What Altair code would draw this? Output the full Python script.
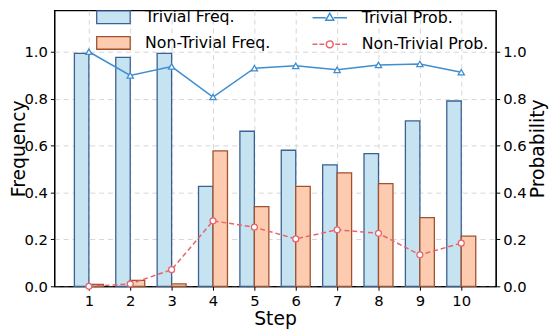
import altair as alt
import pandas as pd

steps = [1, 2, 3, 4, 5, 6, 7, 8, 9, 10]
trivial_freq = [0.993, 0.976, 0.993, 0.426, 0.661, 0.58, 0.518, 0.566, 0.705, 0.79]
nontrivial_freq = [0.008, 0.025, 0.01, 0.577, 0.34, 0.426, 0.484, 0.438, 0.293, 0.214]
trivial_prob = [1.0, 0.899, 0.937, 0.807, 0.93, 0.94, 0.923, 0.944, 0.948, 0.913]
nontrivial_prob = [0.0, 0.01, 0.071, 0.279, 0.252, 0.202, 0.241, 0.226, 0.134, 0.184]
freq_names = ["Trivial Freq.", "Non-Trivial Freq."]
prob_names = ["Trivial Prob.", "Non-Trivial Prob."]

FONT = "DejaVu Sans"
YMAX = 1.1765
BLUE_FILL, BLUE_EDGE = "#c5e3f0", "#3d5f92"
ORANGE_FILL, ORANGE_EDGE = "#fccbb0", "#a0522d"
LINE_BLUE, LINE_RED = "#3f8ed0", "#e8646a"

tf_df = pd.DataFrame({"step": steps, "value": trivial_freq, "series": freq_names[0]})
nf_df = pd.DataFrame({"step": steps, "value": nontrivial_freq, "series": freq_names[1]})
tp_df = pd.DataFrame({"step": steps, "prob": trivial_prob, "name": prob_names[0]})
np_df = pd.DataFrame({"step": steps, "prob": nontrivial_prob, "name": prob_names[1]})

xscale = alt.Scale(domain=[0.165, 10.835], nice=False, zero=False)
yscale = alt.Scale(domain=[0, YMAX], nice=False)
yticks = [0, 0.2, 0.4, 0.6, 0.8, 1.0]


def xaxis():
    return alt.Axis(title="Step", values=steps, format="d", grid=True)


def left_axis():
    return alt.Axis(title="Frequency", values=yticks, format=".1f", grid=True, orient="left")


def right_axis():
    return alt.Axis(title="Probability", values=yticks, format=".1f", orient="right",
                    grid=False, titleAngle=270, titleBaseline="top")


BAR_SYM = "M-1,-0.38H1V0.38H-1Z"


def bar_layer(df, off, fill, edge, ly):
    return alt.Chart(df).transform_calculate(
        x1=f"datum.step + ({off})", x2=f"datum.step + ({off}) + 0.35"
    ).mark_rect(stroke=edge, strokeWidth=1.3, opacity=1).encode(
        x=alt.X("x1:Q", scale=xscale, axis=xaxis()),
        x2="x2:Q",
        y=alt.Y("value:Q", scale=yscale, axis=left_axis()),
        y2=alt.datum(0),
        fill=alt.Fill("series:N", scale=alt.Scale(domain=[df["series"][0]], range=[fill]),
                      legend=alt.Legend(title=None, orient="none", legendX=42, legendY=ly,
                                        symbolType=BAR_SYM, symbolSize=1156,
                                        symbolStrokeColor=edge, symbolStrokeWidth=1.3,
                                        symbolOpacity=1, labelOffset=14)),
    )


bars_t = bar_layer(tf_df, -0.35, BLUE_FILL, BLUE_EDGE, -11)
bars_n = bar_layer(nf_df, 0, ORANGE_FILL, ORANGE_EDGE, 15)
left = alt.layer(bars_t, bars_n).resolve_scale(fill="independent")

TRI_PATH = "M-1,0H-0.23M0.23,0H1M0,-0.26L0.23,0.14L-0.23,0.14Z"
CIRC_PATH = ("M-1,0H-0.72M-0.6,0H-0.32M0.32,0H0.6M0.72,0H1"
             "M0.2,0A0.2,0.2 0 1,1 -0.2,0A0.2,0.2 0 1,1 0.2,0Z")

tline = alt.Chart(tp_df).mark_line(strokeWidth=1.5).encode(
    x=alt.X("step:Q", scale=xscale, axis=xaxis()),
    y=alt.Y("prob:Q", scale=yscale, axis=right_axis()),
    stroke=alt.Stroke("name:N", scale=alt.Scale(domain=[prob_names[0]], range=[LINE_BLUE]),
                      legend=alt.Legend(title=None, orient="none", legendX=261, legendY=-11,
                                        symbolType=TRI_PATH, symbolSize=1225,
                                        symbolStrokeWidth=1.5, labelOffset=14)),
)
tpts = alt.Chart(tp_df).mark_point(shape="triangle-up", filled=True, fill="white",
                                   stroke=LINE_BLUE, strokeWidth=1.3, size=40, opacity=1).encode(
    x=alt.X("step:Q", scale=xscale, axis=xaxis()),
    y=alt.Y("prob:Q", scale=yscale, axis=right_axis()),
)
nline = alt.Chart(np_df).mark_line(strokeWidth=1.5, strokeDash=[5, 3]).encode(
    x=alt.X("step:Q", scale=xscale, axis=xaxis()),
    y=alt.Y("prob:Q", scale=yscale, axis=right_axis()),
    stroke=alt.Stroke("name:N", scale=alt.Scale(domain=[prob_names[1]], range=[LINE_RED]),
                      legend=alt.Legend(title=None, orient="none", legendX=261, legendY=16,
                                        symbolType=CIRC_PATH, symbolSize=1225, symbolDash=[1, 0],
                                        symbolStrokeWidth=1.5, labelOffset=14)),
)
npts = alt.Chart(np_df).mark_point(shape="circle", filled=True, fill="white",
                                   stroke=LINE_RED, strokeWidth=1.3, size=36, opacity=1).encode(
    x=alt.X("step:Q", scale=xscale, axis=xaxis()),
    y=alt.Y("prob:Q", scale=yscale, axis=right_axis()),
)

right = alt.layer(tline, nline, tpts, npts).resolve_scale(stroke="independent")

chart = alt.layer(left, right).resolve_scale(
    y="independent", stroke="independent", fill="independent"
).properties(
    width=448, height=280,
    autosize=alt.AutoSizeParams(type="none"),
    padding={"left": 47, "top": 0, "right": 55, "bottom": 45},
).configure_view(
    stroke="black", strokeWidth=1.2
).configure_axis(
    labelFont=FONT, titleFont=FONT, labelFontSize=15, titleFontSize=19,
    titleFontWeight="normal", labelColor="black", titleColor="black",
    domainColor="black", domainWidth=1.2, tickColor="black", tickSize=4,
    labelPadding=3, gridColor="#d5d5d5", gridDash=[5, 4], gridWidth=1,
).configure_axisX(titlePadding=2).configure_axisLeft(titlePadding=-5).configure_axisRight(
    titlePadding=3
).configure_legend(
    labelFont=FONT, labelFontSize=16, labelColor="black", padding=0
)

chart.save("out.html", embed_options={"renderer": "svg", "actions": False})
